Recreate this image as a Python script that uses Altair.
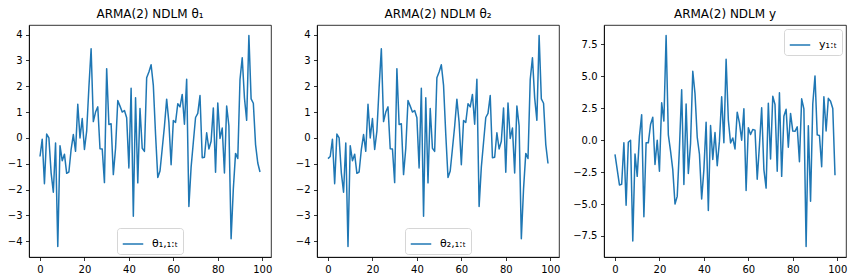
import altair as alt
import pandas as pd

# ---- data ----
t = list(range(100))

theta1 = [
    -0.72, -0.05, -1.77, 0.15, 0.0, -1.35, -2.1, -0.2, -4.2, -0.3,
    -0.88, -0.63, -1.37, -1.32, -0.45, 0.13, -0.52, 1.3, 0.0, 0.75,
    -0.45, 0.26, 1.95, 3.45, 0.63, 1.0, 1.2, -0.42, -0.43, -1.73,
    2.68, 0.52, 0.55, -1.42, -0.4, 1.45, 1.23, 1.0, 1.06, 0.78,
    -1.16, 1.92, -3.03, 1.55, -1.74, 1.14, -0.4, -0.52, 2.33, 2.55,
    2.83, 2.03, 0.13, -1.53, -1.28, -0.42, 0.45, 1.5, 0.6, -1.04,
    0.67, 0.6, 1.32, 1.2, 1.68, 0.53, 2.27, -2.65, -1.13, -0.17,
    0.79, 0.95, 1.64, -0.77, -0.75, 0.2, -0.43, -0.13, 1.16, -1.33,
    1.35, -0.02, 0.38, -1.36, 1.23, 0.47, -3.9, -1.97, -0.6, -0.8,
    2.26, 3.1, 1.55, 0.68, 3.96, 1.51, 1.34, -0.26, -0.97, -1.32,
]

theta2 = [
    -0.8, -0.72, -0.05, -1.77, 0.15, 0.0, -1.35, -2.1, -0.2, -4.2,
    -0.3, -0.88, -0.63, -1.37, -1.32, -0.45, 0.13, -0.52, 1.3, 0.0,
    0.75, -0.45, 0.26, 1.95, 3.45, 0.63, 1.0, 1.2, -0.42, -0.43,
    -1.73, 2.68, 0.52, 0.55, -1.42, -0.4, 1.45, 1.23, 1.0, 1.06,
    0.78, -1.16, 1.92, -3.03, 1.55, -1.74, 1.14, -0.4, -0.52, 2.33,
    2.55, 2.83, 2.03, 0.13, -1.53, -1.28, -0.42, 0.45, 1.5, 0.6,
    -1.04, 0.67, 0.6, 1.32, 1.2, 1.68, 0.53, 2.27, -2.65, -1.13,
    -0.17, 0.79, 0.95, 1.64, -0.77, -0.75, 0.2, -0.43, -0.13, 1.16,
    -1.33, 1.35, -0.02, 0.38, -1.36, 1.23, 0.47, -3.9, -1.97, -0.6,
    -0.8, 2.26, 3.1, 1.55, 0.68, 3.96, 1.51, 1.34, -0.26, -0.99,
]

y_obs = [
    -1.1, -2.3, -3.5, -3.45, -0.2, -5.1, -0.16, 0.0, -7.9, -1.07,
    -2.83, 0.3, 2.0, -6.0, -0.2, -0.2, 1.23, 1.8, -1.9, 0.0,
    -2.43, 2.93, 1.5, 8.2, 0.42, -0.85, -2.3, -5.0, -4.4, -0.6,
    3.95, -3.47, 2.84, -2.6, -0.25, 5.4, 3.65, 0.25, -1.1, -4.6,
    -2.3, 1.4, -5.5, 1.15, -1.5, 0.6, -2.0, -0.07, 3.4, -0.2,
    6.35, 1.6, -0.21, 0.18, -0.68, 2.2, 1.36, 0.0, 2.46, -3.93,
    0.97, 0.45, 0.84, 0.79, -3.05, -0.4, 2.54, -2.3, -3.75, 2.9,
    -1.47, 3.45, 2.8, -2.43, 3.72, -2.83, 1.88, 2.42, -0.55, 2.1,
    0.72, 0.7, 1.05, -1.68, 3.24, 2.45, -8.32, 1.13, -4.78, 2.84,
    5.04, 0.42, 0.37, -2.08, 3.4, 0.72, 3.28, 3.05, 2.48, -2.74,
]

titles = ["ARMA(2) NDLM θ₁", "ARMA(2) NDLM θ₂", "ARMA(2) NDLM y"]
labels = ["θ₁,₁:ₜ", "θ₂,₁:ₜ", "y₁:ₜ"]
x_ticks = [0, 20, 40, 60, 80, 100]
y_ticks_theta = [-4, -3, -2, -1, 0, 1, 2, 3, 4]
y_ticks_y = [-7.5, -5.0, -2.5, 0.0, 2.5, 5.0, 7.5]

BLUE = "#1f77b4"
FONT = "DejaVu Sans"
W, H = 242, 232


def auto_domain(vals, margin=0.05):
    lo, hi = min(vals), max(vals)
    r = hi - lo
    return [lo - margin * r, hi + margin * r]


def panel(values, title, label, yticks, yfmt, extent, legend):
    df = pd.DataFrame({"t": t, "v": values, "series": label})
    return (
        alt.Chart(df, title=alt.TitleParams(title, fontSize=12, font=FONT,
                                            fontWeight="normal", color="black",
                                            anchor="middle", offset=-5,
                                            baseline="alphabetic"))
        .mark_line(strokeWidth=1.5, strokeJoin="round")
        .encode(
            x=alt.X("t:Q", scale=alt.Scale(domain=auto_domain(t), nice=False, zero=False),
                    axis=alt.Axis(values=x_ticks, format="d", title=None, labelFlush=False)),
            y=alt.Y("v:Q", scale=alt.Scale(domain=auto_domain(values), nice=False, zero=False),
                    axis=alt.Axis(values=yticks, format=yfmt, title=None,
                                  minExtent=extent, maxExtent=extent, labelFlush=False)),
            color=alt.Color("series:N", scale=alt.Scale(range=[BLUE]), legend=legend),
        )
        .properties(width=W, height=H)
    )


leg_common = dict(title=None, symbolType="stroke", symbolSize=420, symbolStrokeWidth=1.5,
                  strokeColor="rgba(204,204,204,0.8)", fillColor="rgba(255,255,255,0.8)",
                  cornerRadius=3, padding=5, labelOffset=8, labelFontSize=11,
                  labelFont=FONT, labelColor="black", symbolStrokeColor=BLUE)

leg1 = alt.Legend(orient="none", legendX=88, legendY=203, **leg_common)
leg2 = alt.Legend(orient="none", legendX=88, legendY=203, **leg_common)
leg3 = alt.Legend(orient="top-right", offset=4, **leg_common)

c1 = panel(theta1, titles[0], labels[0], y_ticks_theta, "d", 28.5, leg1)
c2 = panel(theta2, titles[1], labels[1], y_ticks_theta, "d", 43.4, leg2)
c3 = panel(y_obs, titles[2], labels[2], y_ticks_y, ".1f", 42.1, leg3)

chart = (
    alt.hconcat(c1, c2, c3, spacing=0)
    .resolve_scale(color="independent")
    .resolve_legend(color="independent")
    .configure(padding={"left": 0, "top": 7, "right": 0, "bottom": 0})
    .configure_view(stroke="black", strokeWidth=0.8)
    .configure_axis(grid=False, domainColor="black", domainWidth=0.8,
                    tickColor="black", tickWidth=0.8, tickSize=3.5,
                    labelFontSize=10, labelFont=FONT, labelColor="black",
                    labelPadding=3.5)
)

chart.save("out.html", embed_options={"renderer": "svg", "actions": False})
